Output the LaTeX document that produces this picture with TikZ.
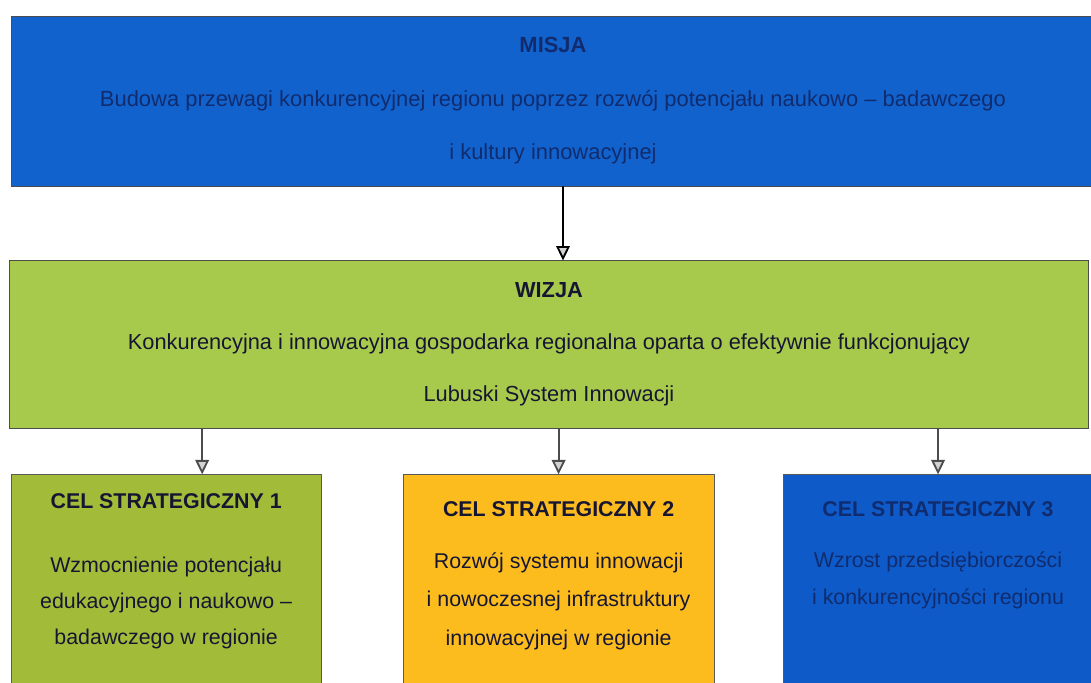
\documentclass[tikz,border=0pt]{standalone}
\usepackage{fontspec}
\setmainfont{Liberation Sans}
\usepackage{xcolor}
\usetikzlibrary{arrows.meta,positioning}
\definecolor{misja-blue}{RGB}{18,98,205}
\definecolor{cel-blue}{RGB}{14,90,200}
\definecolor{wizja-green}{RGB}{168,202,76}
\definecolor{cel-green}{RGB}{162,188,58}
\definecolor{cel-orange}{RGB}{252,188,30}
\definecolor{dark-text}{RGB}{22,22,50}
\definecolor{blue-text}{RGB}{16,44,110}

\begin{document}
\begin{tikzpicture}[x=0.025cm, y=-0.025cm,
    topbox/.style = {shape=rectangle, draw=black!70, semithick,
        align=center, inner sep=0pt, minimum width=27.05cm},
    goal/.style = {shape=rectangle, draw=black!65, semithick,
        inner sep=0pt},
    post/.style = {-{Triangle[length=3.6mm, width=3.4mm, fill=gray!35]},
        line width=1.3pt, draw=black!70}]

  \path [use as bounding box, clip] (0,0) rectangle (1091,683);

  \node [topbox, fill=misja-blue, text=blue-text, minimum height=4.25cm,
      font=\fontsize{15.6}{38}\selectfont] (Misja) at (553,101)
    {\textbf{MISJA}\\
     Budowa przewagi konkurencyjnej regionu poprzez rozwój potencjału naukowo – badawczego\\
     i kultury innowacyjnej};
  \node [topbox, fill=wizja-green, text=dark-text, minimum width=26.95cm,
      minimum height=4.175cm, font=\fontsize{15.5}{37}\selectfont]
    (Wizja) [below=1.85cm of Misja, xshift=-0.1cm]
    {\textbf{WIZJA}\\
     Konkurencyjna i innowacyjna gospodarka regionalna oparta o efektywnie funkcjonujący\\
     Lubuski System Innowacji};

  \node [goal, fill=cel-orange, text=dark-text] (Cel2) [below=1.15cm of Wizja, xshift=0.24cm]
    {\parbox[c][5.675cm][t]{7.775cm}{\centering\fontsize{15.2}{27.5}\selectfont
      \vspace*{0.68cm}\textbf{CEL STRATEGICZNY 2}\\[9pt]
      Rozwój systemu innowacji\\
      i nowoczesnej infrastruktury\\
      innowacyjnej w regionie}};
  \node [goal, fill=cel-green, text=dark-text] (Cel1) [left=2.025cm of Cel2]
    {\parbox[c][5.675cm][t]{7.75cm}{\centering\fontsize{15.2}{25.5}\selectfont
      \vspace*{0.48cm}\textbf{CEL STRATEGICZNY 1}\\[20pt]
      Wzmocnienie potencjału\\
      edukacyjnego i naukowo –\\
      badawczego w regionie}};
  \node [goal, fill=cel-blue, text=blue-text] (Cel3) [right=1.7cm of Cel2]
    {\parbox[c][5.675cm][t]{7.75cm}{\centering\fontsize{15.2}{26}\selectfont
      \vspace*{0.68cm}\textbf{CEL STRATEGICZNY 3}\\[10pt]
      Wzrost przedsiębiorczości\\
      i konkurencyjności regionu}};

  \draw [post, draw=black] ([xshift=0.25cm]Misja.south) -- ([xshift=0.35cm]Wizja.north);
  \draw [post] ([xshift=0.9cm]Cel1.north |- Wizja.south) -- ([xshift=0.9cm]Cel1.north);
  \draw [post] (Cel2.north |- Wizja.south) -- (Cel2.north);
  \draw [post] (Cel3.north |- Wizja.south) -- (Cel3.north);
\end{tikzpicture}
\end{document}
